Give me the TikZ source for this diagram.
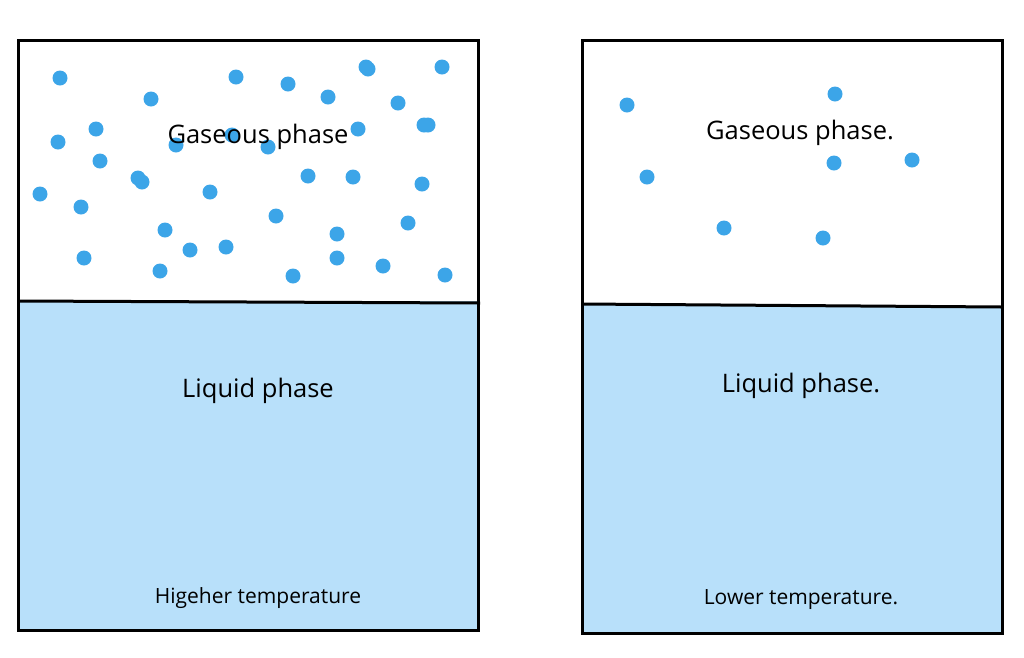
\documentclass[tikz,border=0pt]{standalone}
\usepackage{fontspec}
\setmainfont{Open Sans}
\definecolor{liq}{RGB}{184,224,250}
\definecolor{dot}{RGB}{60,165,232}
\begin{document}
\begin{tikzpicture}[x=1pt,y=-1pt,
  dotm/.style={fill=dot},
  box/.style={draw=black,line width=3pt},
  big/.style={font=\fontsize{25.5}{30}\selectfont},
  small/.style={font=\fontsize{21}{25}\selectfont}]
\useasboundingbox (0,0) rectangle (1024,657);
\fill[liq] (18,301) rectangle (478,630);
\fill[liq] (582,304) -- (1002,307) -- (1002,633) -- (582,633) -- cycle;
\draw[box] (18,40) rectangle (478,630);
\draw[box] (18,301) -- (480,303);
\draw[box] (582,40) rectangle (1002,633);
\draw[box] (582,304) -- (1002,307);
\foreach \x/\y in {60/78,151/99,236/77,288/84,328/97,366/67,368/69,442/67,398/103,58/142,96/129,176/145,232/135,268/147,358/129,424/125,428/125,100/161,138/178,142/182,210/192,308/176,353/177,422/184,40/194,81/207,165/230,276/216,337/234,408/223,84/258,160/271,190/250,226/247,293/276,337/258,383/266,445/275,627/105,835/94,647/177,834/163,912/160,724/228,823/238}
  \fill[dot] (\x,\y) circle (7.5);
\node[big] (g1) at (258,137) {Gaseous phase};
\node[big] (l1) at (258,391) {Liquid phase};
\node[small] (t1) at (258,598) {Higeher temperature};
\node[big] (g2) at (800,133) {Gaseous phase.};
\node[big] (l2) at (801,386) {Liquid phase.};
\node[small] (t2) at (801,600) {Lower temperature.};
\end{tikzpicture}
\end{document}
